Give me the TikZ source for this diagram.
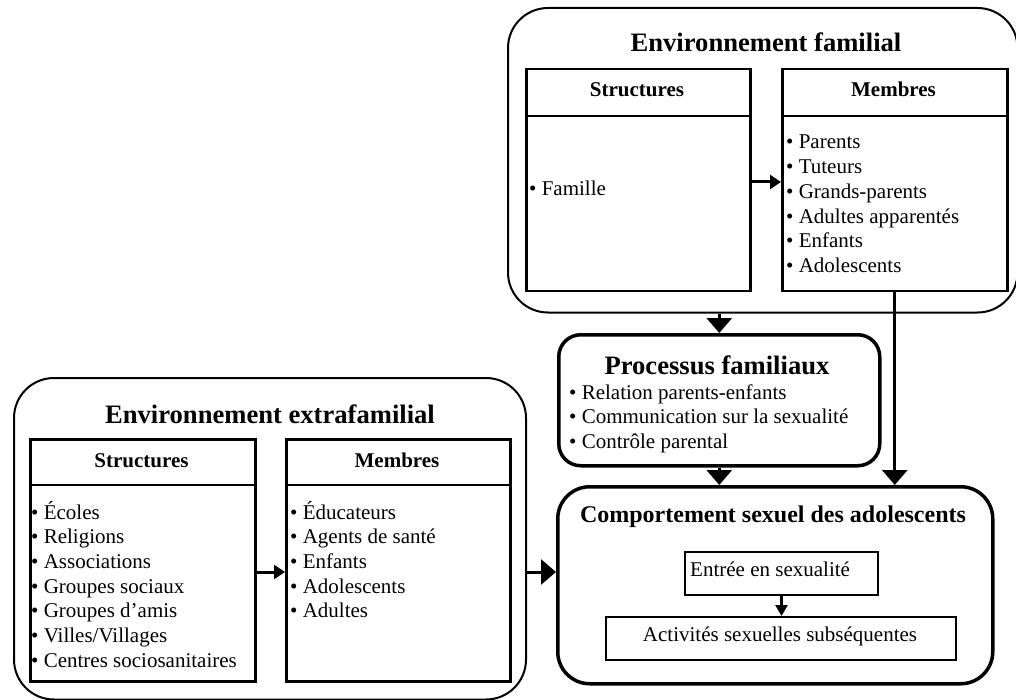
\documentclass[tikz,border=0pt]{standalone}
\usepackage{fontspec}
\setmainfont{Liberation Serif}
\usetikzlibrary{arrows.meta}
\begin{document}
\begin{tikzpicture}[x=1pt,y=-1pt,
  outerbox/.style={draw, line width=2pt, rounded corners=40pt, anchor=north west, inner sep=0pt},
  innerbox/.style={draw, line width=2.5pt, anchor=north west, inner sep=0pt},
  thickbox/.style={draw, line width=3.5pt, anchor=north west, inner sep=0pt},
  thinbox/.style={draw, line width=2pt, anchor=north west, inner sep=0pt},
  divline/.style={line width=2.5pt},
  bigarrow/.style={line width=3pt, -{Triangle[length=15pt,width=25pt]}},
  smallarrow/.style={line width=3pt, -{Triangle[length=11pt,width=14pt]}},
  tinyarrow/.style={line width=2.5pt, -{Triangle[length=11pt,width=12pt]}},
  body/.style={font=\fontsize{21}{24.7}\selectfont, anchor=base west, inner sep=0pt},
  header/.style={font=\fontsize{21}{24.7}\selectfont\bfseries, anchor=base, inner sep=0pt},
  bigtitle/.style={font=\fontsize{26.6}{30}\selectfont\bfseries, anchor=base, inner sep=0pt},
  comptitle/.style={font=\fontsize{24}{28}\selectfont\bfseries, anchor=base, inner sep=0pt}]
\useasboundingbox (0,0) rectangle (1016,700);
\fill[white] (0,0) rectangle (1016,700);

% Environnement familial
\node[outerbox, minimum width=509.5pt, minimum height=304.5pt] (famouter) at (507,7) {};
\node[bigtitle] (famtitle) at (766,52) {Environnement familial};
\node[innerbox, minimum width=224pt, minimum height=222pt] (famS) at (525,68) {};
\node[innerbox, minimum width=225pt, minimum height=222pt] (famM) at (781,68) {};
\draw[divline] (famS.west |- 0,116) -- (famS.east |- 0,116);
\draw[divline] (famM.west |- 0,116) -- (famM.east |- 0,116);
\node[header] (famShead) at (637,97) {Structures};
\node[header] (famMhead) at (893.5,97) {Membres};
\node[body] (famSitem) at (529,196) {• Famille};
\foreach \t [count=\i] in {Parents,Tuteurs,Grands-parents,Adultes apparentés,Enfants,Adolescents}
  \node[body] (fm\i) at (786,{149+24.7*(\i-1)}) {• \t};

% Environnement extrafamilial
\node[outerbox, minimum width=512pt, minimum height=321.5pt] (extraouter) at (13,377) {};
\node[bigtitle] (extratitle) at (270,423) {Environnement extrafamilial};
\node[innerbox, minimum width=225pt, minimum height=242pt] (extraS) at (29,438) {};
\node[innerbox, minimum width=224pt, minimum height=242pt] (extraM) at (285,438) {};
\draw[divline] (extraS.west |- 0,485) -- (extraS.east |- 0,485);
\draw[divline] (extraM.west |- 0,485) -- (extraM.east |- 0,485);
\node[header] (extraShead) at (141.5,467) {Structures};
\node[header] (extraMhead) at (397,467) {Membres};
\foreach \t [count=\i] in {Écoles,Religions,Associations,Groupes sociaux,Groupes d’amis,Villes/Villages,Centres sociosanitaires}
  \node[body] (es\i) at (31,{519+24.67*(\i-1)}) {• \t};
\foreach \t [count=\i] in {Éducateurs,Agents de santé,Enfants,Adolescents,Adultes}
  \node[body] (em\i) at (290,{519+24.67*(\i-1)}) {• \t};

% Processus familiaux
\node[thickbox, rounded corners=22pt, minimum width=321pt, minimum height=131pt] (proc) at (557,333) {};
\node[bigtitle] (proctitle) at (717,374) {Processus familiaux};
\node[body] (p1) at (569,399) {• Relation parents-enfants};
\node[body] (p2) at (569,423.5) {• Communication sur la sexualité};
\node[body] (p3) at (569,448) {• Contrôle parental};

% Comportement sexuel
\node[thickbox, rounded corners=32pt, minimum width=435pt, minimum height=197pt] (comp) at (556,485) {};
\node[comptitle] (comptitle) at (773,522) {Comportement sexuel des adolescents};
\node[thinbox, minimum width=193pt, minimum height=43pt] (entree) at (684,551) {};
\node[body] (entreetext) at (690,576) {Entrée en sexualité};
\node[thinbox, minimum width=350pt, minimum height=43pt] (activ) at (605,616) {};
\node[body, anchor=base] (activtext) at (780,641) {Activités sexuelles subséquentes};

% Connectors
\draw[smallarrow] (famS.east |- 0,182) -- (famM.west |- 0,182);
\draw[smallarrow] (extraS.east |- 0,572) -- (extraM.west |- 0,572);
\draw[bigarrow] (extraouter.east |- 0,572) -- (comp.west |- 0,572);
\draw[bigarrow] (proc.north |- famouter.south) -- (proc.north);
\draw[bigarrow] (proc.south) -- (proc.south |- comp.north);
\draw[bigarrow] (famM.south) -- (famM.south |- comp.north);
\draw[tinyarrow] (entree.south) -- (entree.south |- activ.north);
\end{tikzpicture}
\end{document}
